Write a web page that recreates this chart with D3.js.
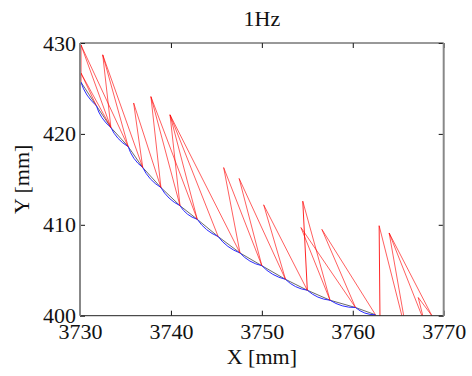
<!DOCTYPE html>
<html>
<head>
<meta charset="utf-8">
<script src="https://cdn.jsdelivr.net/npm/d3@7"></script>
<style>
  body { margin: 0; background: #fff; }
  svg text { font-family: "Liberation Serif", "Times New Roman", serif; fill: #111; }
</style>
</head>
<body>
<svg id="chart" width="472" height="376"></svg>
<script>
// reference path samples (1 per second)
const sampleX = [3730.1, 3731.8, 3733.4, 3735.3, 3736.9, 3738.9, 3741.0, 3742.9, 3745.2, 3747.6, 3750.0, 3752.6, 3755.0, 3757.5, 3760.3, 3762.5];
const sampleY = [425.7, 423.1, 420.7, 418.6, 416.3, 414.1, 412.1, 410.6, 408.7, 406.9, 405.5, 404.0, 402.8, 401.7, 400.9, 400.1];

// predicted start points (peaks) of the red trajectories
const peakX = [3730.1, 3730.1, 3732.5, 3735.9, 3737.8, 3739.9, 3745.8, 3747.5, 3750.2, 3754.5, 3754.3, 3756.6, 3762.9, 3764.0, 3767.2];
const peakY = [429.8, 426.7, 428.7, 423.4, 424.1, 422.1, 416.3, 415.1, 412.2, 412.6, 409.7, 409.5, 409.9, 409.1, 402.0];
// index of sample each peak jumps up from (-1 = none)
const riseFrom = [0, -1, -1, -1, -1, -1, -1, -1, -1, 12, -1, -1, -1, -1, -1];
// sample indices each peak fans down to
const fanTo = [[2, 3], [1, 2], [2, 3, 4], [4, 5], [5, 6, 7], [6, 7, 8, 9], [9, 10], [10, 11], [11, 12], [13], [13, 14], [14, 15], [], [], []];
// trajectories that run below the axis after the path ends
const tailPeak = [12, 12, 13, 13, 13, 14, 14];
const tailX = [3763.0, 3765.4, 3765.6, 3767.6, 3768.7, 3767.7, 3768.7];
const tailY = [399.0, 400.0, 400.0, 400.0, 400.0, 400.0, 400.0];

const xTicks = [3730, 3740, 3750, 3760, 3770];
const yTicks = [400, 410, 420, 430];

const margin = { top: 43, right: 28.3, bottom: 60.3, left: 80 };
const width = 472 - margin.left - margin.right;
const height = 376 - margin.top - margin.bottom;

const svg = d3.select('#chart');
const g = svg.append('g').attr('transform', `translate(${margin.left},${margin.top})`);

const x = d3.scaleLinear().domain([3730, 3770]).range([0, width]);
const y = d3.scaleLinear().domain([400, 430]).range([height, 0]);

g.append('clipPath').attr('id', 'clip')
  .append('rect').attr('width', width).attr('height', height);

const plot = g.append('g').attr('clip-path', 'url(#clip)');

// black chord line
plot.append('path')
  .datum(sampleX.map((d, i) => [d, sampleY[i]]))
  .attr('fill', 'none')
  .attr('stroke', '#444')
  .attr('stroke-width', 0.8)
  .attr('d', d3.line().x(d => x(d[0])).y(d => y(d[1])));

// blue scalloped path
function scallop(pts) {
  let p = `M${x(pts[0][0])},${y(pts[0][1])}`;
  for (let i = 1; i < pts.length; i++) {
    const x0 = x(pts[i - 1][0]), y0 = y(pts[i - 1][1]);
    const x1 = x(pts[i][0]), y1 = y(pts[i][1]);
    const dx = x1 - x0, dy = y1 - y0, len = Math.hypot(dx, dy);
    const cx = (x0 + x1) / 2 - dy / len * 4, cy = (y0 + y1) / 2 + dx / len * 4;
    p += `Q${cx},${cy} ${x1},${y1}`;
  }
  return p;
}
plot.append('path')
  .attr('fill', 'none')
  .attr('stroke', '#2a2aff')
  .attr('stroke-width', 1)
  .attr('d', scallop(sampleX.map((d, i) => [d, sampleY[i]])));

// red trajectories
const segs = [];
peakX.forEach((px, i) => {
  if (riseFrom[i] >= 0) segs.push([sampleX[riseFrom[i]], sampleY[riseFrom[i]], px, peakY[i], 0.95]);
  fanTo[i].forEach(j => segs.push([px, peakY[i], sampleX[j], sampleY[j], 0.7]));
});
tailPeak.forEach((k, i) => segs.push([peakX[k], peakY[k], tailX[i], tailY[i], i === 0 ? 0.95 : 0.7]));

plot.selectAll('.traj')
  .data(segs)
  .enter().append('line')
  .attr('class', 'traj')
  .attr('x1', d => x(d[0])).attr('y1', d => y(d[1]))
  .attr('x2', d => x(d[2])).attr('y2', d => y(d[3]))
  .attr('stroke', '#ff0000')
  .attr('stroke-opacity', d => d[4])
  .attr('stroke-width', 0.9);

// axes (inward ticks, MATLAB box)
g.append('g')
  .attr('transform', `translate(0,${height})`)
  .call(d3.axisBottom(x).tickValues(xTicks).tickSize(-5).tickPadding(8).tickFormat(d3.format('d')));
g.append('g')
  .call(d3.axisTop(x).tickValues(xTicks).tickSize(-5).tickFormat(''));
g.append('g')
  .call(d3.axisLeft(y).tickValues(yTicks).tickSize(-5).tickPadding(4));
g.append('g')
  .attr('transform', `translate(${width},0)`)
  .call(d3.axisRight(y).tickValues(yTicks).tickSize(-5).tickFormat(''));

g.selectAll('.domain').remove();
g.selectAll('.tick line').attr('stroke', '#111');
g.selectAll('.tick text').style('font-size', '22px').attr('fill', '#111');

// box
g.append('line').attr('x1', 0).attr('x2', width).attr('y1', 0).attr('y2', 0).attr('stroke', '#333');
g.append('line').attr('x1', 0).attr('x2', width).attr('y1', height).attr('y2', height).attr('stroke', '#222');
g.append('line').attr('x1', 0).attr('x2', 0).attr('y1', 0).attr('y2', height).attr('stroke', '#888').attr('stroke-width', 2);
g.append('line').attr('x1', width).attr('x2', width).attr('y1', 0).attr('y2', height).attr('stroke', '#888').attr('stroke-width', 2);

// labels
svg.append('text')
  .attr('x', margin.left + width / 2).attr('y', 26)
  .attr('text-anchor', 'middle').style('font-size', '22px')
  .text('1Hz');
svg.append('text')
  .attr('x', margin.left + width / 2).attr('y', 364)
  .attr('text-anchor', 'middle').style('font-size', '22px')
  .text('X [mm]');
svg.append('text')
  .attr('transform', `translate(29,${margin.top + height / 2}) rotate(-90)`)
  .attr('text-anchor', 'middle').style('font-size', '22px')
  .text('Y [mm]');
</script>
</body>
</html>
